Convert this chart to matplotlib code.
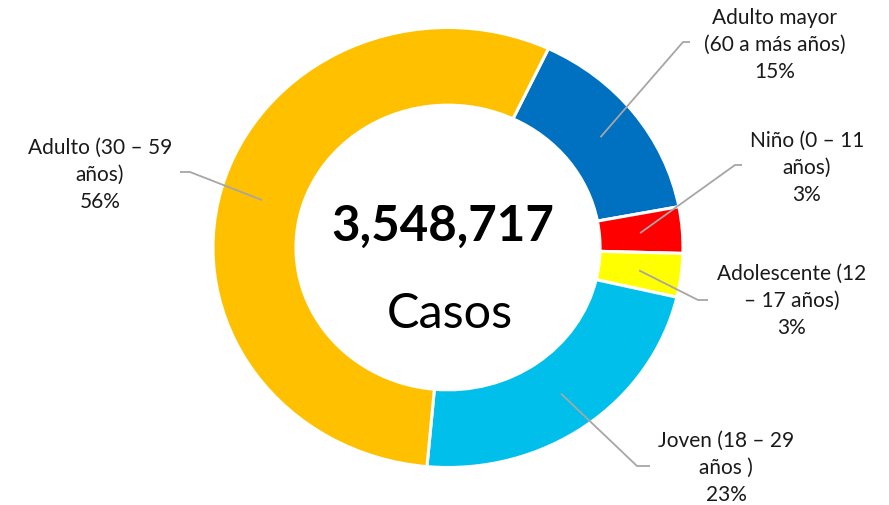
import numpy as np
import matplotlib
matplotlib.use('Agg')
import matplotlib.pyplot as plt

plt.rcParams['font.family'] = ['Lato', 'DejaVu Sans']

# data (clockwise from the first slice)
labels = ['Adulto mayor\n(60 a más años)', 'Niño (0 – 11\naños)',
          'Adolescente (12\n– 17 años)', 'Joven (18 – 29\naños )',
          'Adulto (30 – 59\naños)']
values = [15.0, 3.4, 3.2, 22.8, 55.6]
colors = ['#0070C0', '#FF0000', '#FFFF00', '#00C0EB', '#FFC000']
total_txt = '3,548,717'
sub_txt = 'Casos'

# label placement in pixels: elbow, line end, text center
elbows = [(683, 43), (735, 166), (698, 301), (637, 467), (190, 173)]
ends = [(690, 43), (742, 166), (708, 301), (650, 467), (180, 173)]
txt_pos = [(775, 45), (807, 168), (792, 301), (726, 468), (100, 175)]

W, H = 889, 506
fig = plt.figure(figsize=(W / 100, H / 100), dpi=100)

# pie axis box = bounding box of the (slightly wide) ring
cx, cy, rx, ry = 448, 248.5, 235, 220
ax = fig.add_axes([(cx - rx) / W, (H - cy - ry) / H, 2 * rx / W, 2 * ry / H])
wedges, _ = ax.pie(values, colors=colors, startangle=90 - 25.3, counterclock=False,
                   radius=1, wedgeprops=dict(width=0.353, edgecolor='white', linewidth=2.2))
ax.set_aspect('auto')
ax.set_xlim(-1, 1)
ax.set_ylim(-1, 1)
ax.axis('off')

# overlay in pixel coords for labels
ov = fig.add_axes([0, 0, 1, 1])
ov.set_xlim(0, W)
ov.set_ylim(H, 0)
ov.axis('off')

for i, w in enumerate(wedges):
    mid = np.deg2rad((w.theta1 + w.theta2) / 2)
    r = 0.82
    sx = cx + r * np.cos(mid) * rx
    sy = cy - r * np.sin(mid) * ry
    ex, ey = elbows[i]
    fx, fy = ends[i]
    ov.plot([sx, ex, fx], [sy, ey, fy], color='#A6A6A6', lw=1.3, solid_capstyle='butt')
    pct = '%d%%' % round(values[i])
    ov.text(txt_pos[i][0], txt_pos[i][1], labels[i] + '\n' + pct, ha='center', va='center',
            fontsize=15, color='#1a1a1a', linespacing=1.42)

ov.text(443, 226, total_txt, ha='center', va='center', fontsize=35.5, fontweight='bold', color='black')
ov.text(450, 314, sub_txt, ha='center', va='center', fontsize=35, color='black')

fig.savefig('out.png', dpi=100)
